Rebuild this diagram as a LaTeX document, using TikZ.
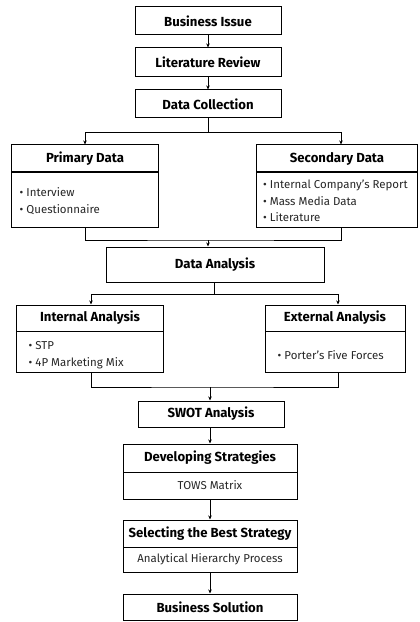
\documentclass[tikz,border=0pt]{standalone}
\usepackage{fontspec}
\setmainfont{Fira Sans}
\usetikzlibrary{arrows.meta}
\begin{document}
\begin{tikzpicture}[x=1bp,y=-1bp,
  box/.style={draw=black, line width=1bp, inner sep=0pt, anchor=center},
  ttl/.style={box, font=\bfseries\fontsize{13.2}{15}\selectfont},
  txt/.style={anchor=west, inner sep=0pt, align=left, text=black!85, font=\fontsize{11.5}{16.5}\selectfont},
  one/.style={anchor=center, inner sep=0pt, text=black!85, font=\fontsize{11.5}{13}\selectfont},
  arr/.style={-{Stealth[length=4bp,width=3.5bp]}, line width=0.8bp},
  ln/.style={line width=0.8bp}]
\useasboundingbox (0,0) rectangle (419,622);
% top chain
\node[ttl, minimum width=146bp, minimum height=28bp] (bi) at (208,21) {Business Issue};
\node[ttl, minimum width=146bp, minimum height=29bp] (lr) at (208,62.5) {Literature Review};
\node[ttl, minimum width=146bp, minimum height=28bp] (dc) at (208,104) {Data Collection};
% primary / secondary
\node[ttl, minimum width=146bp, minimum height=27bp] (pdT) at (85,158.5) {Primary Data};
\node[box, minimum width=146bp, minimum height=55bp] (pdB) at (85,199.5) {};
\node[txt] (pdL) at ([xshift=8bp,yshift=-1.5bp]pdB.west) {\textbullet\ Interview\\\textbullet\ Questionnaire};
\node[ttl, minimum width=161bp, minimum height=27bp] (sdT) at (337,158.5) {Secondary Data};
\node[box, minimum width=161bp, minimum height=55bp] (sdB) at (337,199.5) {};
\node[txt] (sdL) at ([xshift=7bp,yshift=-1.5bp]sdB.west) {\textbullet\ Internal Company’s Report\\\textbullet\ Mass Media Data\\\textbullet\ Literature};
% data analysis
\node[ttl, minimum width=218bp, minimum height=35bp] (da) at (215,264.5) {Data Analysis};
% internal / external
\node[ttl, minimum width=146bp, minimum height=26bp] (iaT) at (90,318) {Internal Analysis};
\node[box, minimum width=146bp, minimum height=41bp] (iaB) at (90,351.5) {};
\node[txt] (iaL) at ([xshift=12bp,yshift=-3.5bp]iaB.west) {\textbullet\ STP\\\textbullet\ 4P Marketing Mix};
\node[ttl, minimum width=140bp, minimum height=26bp] (eaT) at (335,318) {External Analysis};
\node[box, minimum width=140bp, minimum height=41bp] (eaB) at (335,351.5) {};
\node[txt] (eaL) at ([xshift=13bp,yshift=-3.5bp]eaB.west) {\textbullet\ Porter’s Five Forces};
% lower chain
\node[ttl, minimum width=146bp, minimum height=26bp] (sw) at (211,414) {SWOT Analysis};
\node[ttl, minimum width=174bp, minimum height=28bp] (dsT) at (210,458) {Developing Strategies};
\node[box, minimum width=174bp, minimum height=27bp] (dsB) at (210,485.5) {};
\node[one] (dsL) at (dsB.center) {TOWS Matrix};
\node[ttl, minimum width=174bp, minimum height=27bp] (ssT) at (210,533.5) {Selecting the Best Strategy};
\node[box, minimum width=174bp, minimum height=25bp] (ssB) at (210,559.5) {};
\node[one] (ssL) at (ssB.center) {Analytical Hierarchy Process};
\node[ttl, minimum width=174bp, minimum height=26bp] (bs) at (210,607) {Business Solution};
% connectors
\draw[arr] (bi.south) -- (lr.north);
\draw[arr] (lr.south) -- (dc.north);
\draw[ln] (dc.south) -- ++(0,14) coordinate (b1);
\draw[arr] (b1) -| (pdT.north);
\draw[arr] (b1) -| ([xshift=4bp]sdT.north);
\coordinate (m1) at (208,240);
\draw[ln] (pdB.south) |- (m1) -| ([xshift=4bp]sdB.south);
\draw[arr] (m1) -- (m1 |- da.north);
\draw[ln] ([xshift=-1bp]da.south) -- ++(0,12) coordinate (b2);
\draw[arr] (b2) -| ([xshift=1bp]iaT.north);
\draw[arr] (b2) -| ([xshift=3bp]eaT.north);
\coordinate (m2) at (210,387);
\draw[ln] ([xshift=1bp]iaB.south) |- (m2) -| ([xshift=3bp]eaB.south);
\draw[arr] (m2) -- (m2 |- sw.north);
\draw[arr] (sw.south -| dsT.north) -- (dsT.north);
\draw[arr] (dsB.south) -- (ssT.north);
\draw[arr] (ssB.south) -- (bs.north);
\end{tikzpicture}
\end{document}
